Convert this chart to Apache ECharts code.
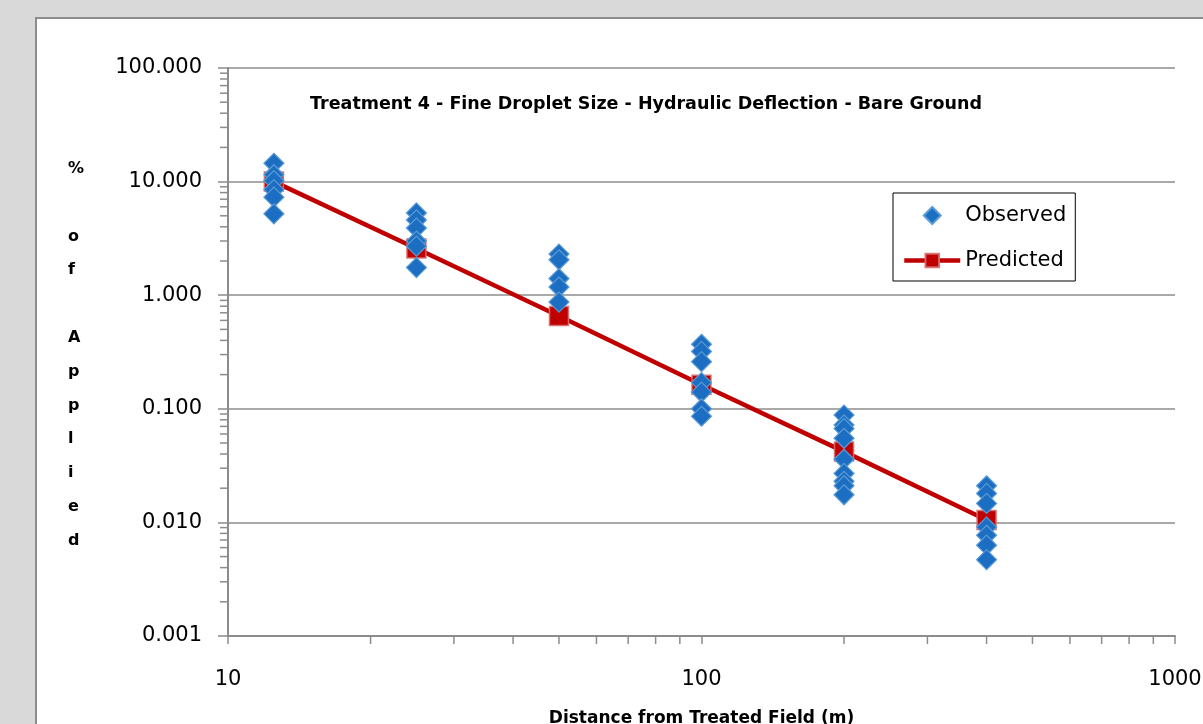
<!DOCTYPE html>
<html>
<head>
<meta charset="utf-8">
<script src="https://cdn.jsdelivr.net/npm/echarts@6/dist/echarts.min.js"></script>
<style>
  html, body { margin: 0; padding: 0; background: #d9d9d9; }
  .panel {
    position: absolute; left: 35px; top: 17px; width: 1200px; height: 740px;
    background: #fff; border: 2px solid #8c8c8c; box-sizing: border-box;
  }
  #main { position: absolute; left: 0; top: 0; width: 1203px; height: 724px; }
</style>
</head>
<body>
<div class="panel"></div>
<div id="main"></div>
<script>
// distances (m)
const distances = [12.5, 25, 50, 100, 200, 400];
// predicted % of applied
const predicted = [10.0, 2.58, 0.655, 0.163, 0.042, 0.0105];
// observed % of applied, one list per distance
const obs12 = [14.5, 11.5, 10.2, 8.5, 7.3, 5.2];
const obs25 = [5.3, 4.6, 3.9, 3.0, 2.7, 1.75];
const obs50 = [2.3, 2.05, 1.4, 1.18, 0.87];
const obs100 = [0.37, 0.32, 0.26, 0.17, 0.14, 0.1, 0.086];
const obs200 = [0.088, 0.072, 0.067, 0.055, 0.036, 0.027, 0.023, 0.021, 0.0175];
const obs400 = [0.021, 0.018, 0.0147, 0.0091, 0.0077, 0.0063, 0.0047];
const observedLists = [obs12, obs25, obs50, obs100, obs200, obs400];

// minor tick values for the log axes
const xMinorTicks = [20, 30, 40, 50, 60, 70, 80, 90, 200, 300, 400, 500, 600, 700, 800, 900];
const yMinorTicks = [];
[0.001, 0.01, 0.1, 1, 10].forEach(d => {
  [2, 3, 4, 5, 6, 7, 8, 9].forEach(m => yMinorTicks.push(+(d * m).toPrecision(3)));
});

const observedData = [];
observedLists.forEach((list, i) => {
  list.forEach(v => observedData.push([distances[i], v]));
});
const predictedData = distances.map((d, i) => [d, predicted[i]]);

const axisGray = '#8c8c8c';
const font = 'DejaVu Sans';
// diamond drawn as a path so the legend keeps it square
const diamondIcon = 'path://M10,0 L20,10 L10,20 L0,10 Z';

const myChart = echarts.init(document.getElementById('main'));

let option = {
  animation: false,
  grid: { left: 228, right: 28, top: 68, bottom: 88, outerBoundsMode: 'none' },
  title: {
    text: 'Treatment 4 - Fine Droplet Size - Hydraulic Deflection - Bare Ground',
    left: 641, top: 90, textAlign: 'center',
    textStyle: { fontFamily: font, fontWeight: 'bold', fontSize: 17.5, color: '#000' }
  },
  legend: {
    orient: 'vertical',
    left: 893, top: 193,
    padding: [12, 9, 10, 9],
    itemGap: 24,
    itemWidth: 56, itemHeight: 17,
    borderColor: '#000', borderWidth: 1,
    textStyle: { fontFamily: font, fontSize: 21, color: '#000' },
    data: [
      { name: 'Observed', icon: diamondIcon },
      { name: 'Predicted', lineStyle: { width: 4.5 } }
    ]
  },
  graphic: [{
    type: 'text', left: 68, top: 152,
    style: {
      text: '%\n\no\nf\n\nA\np\np\nl\ni\ne\nd',
      fontFamily: font, fontWeight: 'bold', fontSize: 16,
      lineHeight: 33.8, align: 'center', fill: '#000'
    }
  }],
  xAxis: {
    type: 'log', logBase: 10, min: 10, max: 1000,
    name: 'Distance from Treated Field (m)',
    nameLocation: 'middle', nameGap: 74,
    nameTextStyle: { fontFamily: font, fontWeight: 'bold', fontSize: 17, color: '#000' },
    axisLine: { lineStyle: { color: axisGray, width: 2 } },
    axisTick: { length: 8, lineStyle: { color: axisGray, width: 1.5 } },
    axisLabel: {
      fontFamily: font, fontSize: 21, color: '#000', margin: 33,
      formatter: v => String(Math.round(v))
    },
    splitLine: { show: false }
  },
  yAxis: {
    type: 'log', logBase: 10, min: 0.001, max: 100,
    axisLine: { show: true, lineStyle: { color: axisGray, width: 2 } },
    axisTick: { show: true, length: 10, lineStyle: { color: axisGray, width: 1.5 } },
    axisLabel: {
      fontFamily: font, fontSize: 21, color: '#000', margin: 26,
      formatter: v => Number(v).toFixed(3)
    },
    splitLine: { show: true, lineStyle: { color: axisGray, width: 1.5 } }
  },
  series: [
    {
      type: 'custom', silent: true, clip: false, z: 1,
      data: xMinorTicks.map(v => [v]),
      renderItem: (params, api) => {
        const p = api.coord([api.value(0), 0.001]);
        return {
          type: 'line',
          shape: { x1: p[0], y1: p[1], x2: p[0], y2: p[1] + 8 },
          style: { stroke: axisGray, lineWidth: 1.5 }
        };
      }
    },
    {
      type: 'custom', silent: true, clip: false, z: 1,
      data: yMinorTicks.map(v => [10, v]),
      renderItem: (params, api) => {
        const p = api.coord([10, api.value(1)]);
        return {
          type: 'line',
          shape: { x1: p[0] - 8, y1: p[1], x2: p[0], y2: p[1] },
          style: { stroke: axisGray, lineWidth: 1.5 }
        };
      }
    },
    {
      name: 'Predicted',
      type: 'line',
      data: predictedData,
      symbol: 'rect',
      symbolSize: 19,
      lineStyle: { color: '#c00000', width: 4.5 },
      itemStyle: { color: '#c00000', borderColor: 'rgba(215,110,110,0.9)', borderWidth: 1.5 },
      z: 3
    },
    {
      name: 'Observed',
      type: 'scatter',
      data: observedData,
      symbol: 'diamond',
      symbolSize: [20, 20],
      itemStyle: { color: '#1b6ec2', borderColor: '#5b9bd5', borderWidth: 1.2, opacity: 1 },
      z: 4
    }
  ]
};

option && myChart.setOption(option);
</script>
</body>
</html>
